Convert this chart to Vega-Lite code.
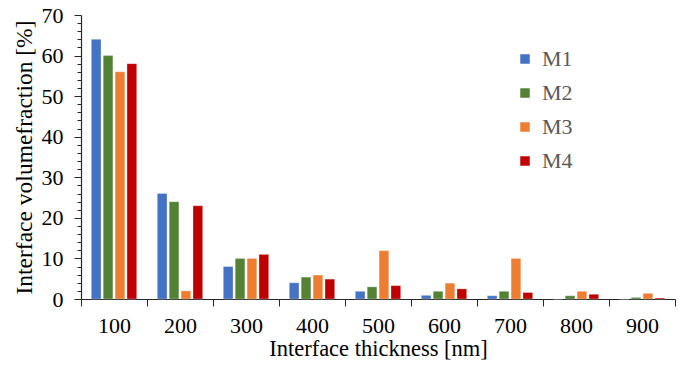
{
  "$schema": "https://vega.github.io/schema/vega-lite/v6.json",
  "autosize": "none",
  "width": 594,
  "height": 284,
  "padding": {"left": 81, "top": 15, "right": 13, "bottom": 71},
  "background": "white",
  "config": {
    "view": {"stroke": null},
    "font": "Liberation Serif"
  },
  "data": {
    "values": [
      {"t": "100", "s": "M1", "v": 64}, {"t": "100", "s": "M2", "v": 60}, {"t": "100", "s": "M3", "v": 56}, {"t": "100", "s": "M4", "v": 58},
      {"t": "200", "s": "M1", "v": 26}, {"t": "200", "s": "M2", "v": 24}, {"t": "200", "s": "M3", "v": 2}, {"t": "200", "s": "M4", "v": 23},
      {"t": "300", "s": "M1", "v": 8}, {"t": "300", "s": "M2", "v": 10}, {"t": "300", "s": "M3", "v": 10}, {"t": "300", "s": "M4", "v": 11},
      {"t": "400", "s": "M1", "v": 4}, {"t": "400", "s": "M2", "v": 5.4}, {"t": "400", "s": "M3", "v": 5.9}, {"t": "400", "s": "M4", "v": 4.9},
      {"t": "500", "s": "M1", "v": 1.9}, {"t": "500", "s": "M2", "v": 3}, {"t": "500", "s": "M3", "v": 11.9}, {"t": "500", "s": "M4", "v": 3.3},
      {"t": "600", "s": "M1", "v": 0.9}, {"t": "600", "s": "M2", "v": 1.9}, {"t": "600", "s": "M3", "v": 3.9}, {"t": "600", "s": "M4", "v": 2.5},
      {"t": "700", "s": "M1", "v": 0.8}, {"t": "700", "s": "M2", "v": 1.9}, {"t": "700", "s": "M3", "v": 10}, {"t": "700", "s": "M4", "v": 1.6},
      {"t": "800", "s": "M1", "v": 0}, {"t": "800", "s": "M2", "v": 0.8}, {"t": "800", "s": "M3", "v": 1.9}, {"t": "800", "s": "M4", "v": 1.15},
      {"t": "900", "s": "M1", "v": 0}, {"t": "900", "s": "M2", "v": 0.4}, {"t": "900", "s": "M3", "v": 1.4}, {"t": "900", "s": "M4", "v": 0.25}
    ]
  },
  "resolve": {"axis": {"y": "independent"}},
  "layer": [
    {
      "mark": {"type": "rule", "opacity": 0},
      "encoding": {
        "y": {
          "field": "v", "type": "quantitative",
          "scale": {"domain": [0, 70], "nice": false},
          "axis": {
            "orient": "left", "title": null, "labels": false, "domain": false, "grid": false,
            "values": [2, 4, 6, 8, 12, 14, 16, 18, 22, 24, 26, 28, 32, 34, 36, 38, 42, 44, 46, 48, 52, 54, 56, 58, 62, 64, 66, 68],
            "tickSize": 4, "tickColor": "#262626"
          }
        }
      }
    },
    {
      "mark": {"type": "bar", "stroke": "white", "strokeWidth": 0.5, "strokeOpacity": 0.6},
      "encoding": {
        "x": {
          "field": "t", "type": "nominal",
          "scale": {"paddingInner": 0, "paddingOuter": 0},
          "axis": {
            "title": "Interface thickness [nm]",
            "titleFontSize": 22.5, "titleFontWeight": "normal", "titleColor": "#000000",
            "titlePadding": 1,
            "labelAngle": 0, "labelFontSize": 22, "labelColor": "#000000", "labelPadding": 9,
            "tickBand": "extent", "tickSize": 7, "tickColor": "#262626",
            "domainColor": "#262626", "domainWidth": 1.2
          }
        },
        "xOffset": {"field": "s", "type": "nominal", "scale": {"paddingInner": 0.185, "paddingOuter": 0.866}},
        "y": {
          "field": "v", "type": "quantitative",
          "scale": {"domain": [0, 70], "nice": false},
          "axis": {
            "orient": "left",
            "title": "Interface volumefraction [%]",
            "titleFontSize": 23.5, "titleFontWeight": "normal", "titleColor": "#000000",
            "titlePadding": 5,
            "values": [0, 10, 20, 30, 40, 50, 60, 70],
            "labelFontSize": 22, "labelColor": "#000000", "labelPadding": 11,
            "tickSize": 7, "tickColor": "#262626", "grid": false,
            "domainColor": "#262626", "domainWidth": 1.2
          }
        },
        "color": {
          "field": "s", "type": "nominal",
          "scale": {"domain": ["M1", "M2", "M3", "M4"], "range": ["#4472C4", "#548235", "#ED7D31", "#C00000"]},
          "legend": {
            "title": null, "orient": "none", "legendX": 433, "legendY": 33,
            "symbolType": "square", "symbolSize": 90, "symbolStrokeWidth": 0,
            "labelFontSize": 22, "labelColor": "#595959", "labelOffset": 6,
            "rowPadding": 12
          }
        }
      }
    }
  ]
}
